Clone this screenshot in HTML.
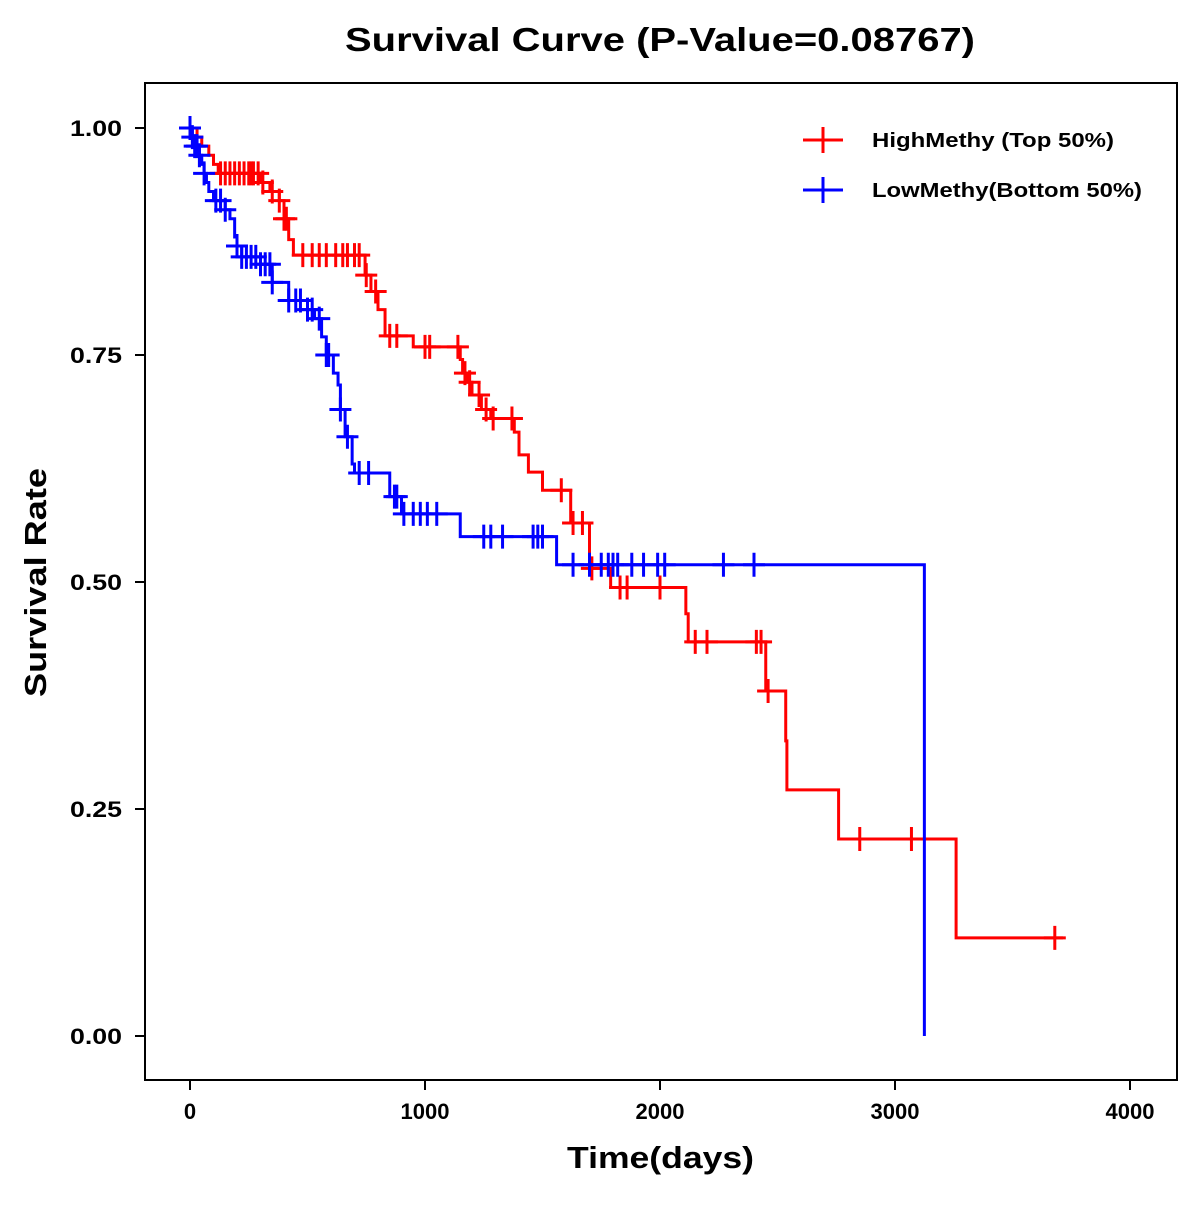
<!DOCTYPE html>
<html><head><meta charset="utf-8"><style>
body{margin:0;background:#fff}
svg text{font-family:"Liberation Sans",Arial,sans-serif;font-weight:bold}
</style></head><body>
<svg id="chart" width="1200" height="1200" xmlns="http://www.w3.org/2000/svg">
<rect x="0" y="0" width="1200" height="1200" fill="#fff"/>
<text x="345" y="51" font-size="33" textLength="630" lengthAdjust="spacingAndGlyphs">Survival Curve (P-Value=0.08767)</text>
<rect x="145" y="83" width="1032" height="997" fill="none" stroke="#000" stroke-width="2"/>
<text x="567" y="1168" font-size="31" textLength="187" lengthAdjust="spacingAndGlyphs">Time(days)</text>
<text transform="translate(46,697) rotate(-90)" font-size="31" textLength="229" lengthAdjust="spacingAndGlyphs">Survival Rate</text>
<g id="axes"></g>
<g id="series"></g>
<g id="legend"></g>
</svg>
<script>
const xTicks=[0,1000,2000,3000,4000];
const yTicks=[0,0.25,0.5,0.75,1.0];
const yTickLabels=["0.00","0.25","0.50","0.75","1.00"];
const seriesNames=["HighMethy (Top 50%)","LowMethy(Bottom 50%)"];
const seriesColors=["#ff0000","#0000ff"];
const highTimes=[0,30,50,80,100,120,300,340,380,400,420,440,745,770,800,830,950,1150,1160,1180,1200,1240,1280,1380,1400,1440,1500,1620,1700,1790,2110,2120,2450,2535,2540,2760,3260];
const highSurv=[1.0,0.99,0.98,0.97,0.96,0.95,0.94,0.93,0.92,0.90,0.877,0.86,0.838,0.82,0.80,0.771,0.759,0.745,0.73,0.72,0.706,0.69,0.68,0.665,0.64,0.621,0.601,0.565,0.515,0.494,0.465,0.434,0.38,0.325,0.271,0.217,0.108];
const highEnd=3715;
const highCensT=[130,150,170,190,210,230,250,260,270,290,310,350,380,400,410,480,520,550,580,620,650,670,700,720,750,790,850,880,1000,1020,1140,1170,1190,1230,1260,1290,1370,1580,1630,1670,1710,1830,1860,2000,2150,2200,2410,2430,2460,2850,3070,3680];
const lowTimes=[0,10,20,40,50,60,70,80,100,150,170,190,200,220,300,350,420,500,530,560,580,610,630,640,660,690,700,850,900,1150,1560,3125];
const lowSurv=[1.0,0.99,0.98,0.97,0.96,0.95,0.94,0.93,0.92,0.91,0.90,0.88,0.87,0.858,0.85,0.83,0.81,0.80,0.79,0.77,0.75,0.73,0.717,0.69,0.66,0.63,0.62,0.594,0.575,0.55,0.519,0.0];
const lowEnd=3125;
const lowCensT=[0,10,20,30,40,60,110,130,150,200,220,240,260,280,300,320,340,350,420,450,470,500,520,550,580,590,640,670,720,760,870,880,910,950,980,1010,1050,1250,1280,1330,1460,1480,1500,1630,1700,1750,1780,1800,1820,1880,1930,1990,2020,2270,2400];

const NS="http://www.w3.org/2000/svg";
const xs=t=>190+t*0.235;
const ys=s=>1036-s*908;
function mk(tag,attrs,parent){const e=document.createElementNS(NS,tag);for(const k in attrs)e.setAttribute(k,attrs[k]);parent.appendChild(e);return e;}
const axes=document.getElementById('axes');
xTicks.forEach(t=>{
  const l=mk('line',{x1:xs(t),x2:xs(t),y1:1080,y2:1090,stroke:'#000','stroke-width':2},axes);
  
  
  const tx=mk('text',{x:xs(t),y:1119,'font-size':22,'text-anchor':'middle'},axes);tx.textContent=t;
  
  
});
yTicks.forEach((v,i)=>{
  const l=mk('line',{x1:135,x2:145,y1:ys(v),y2:ys(v),stroke:'#000','stroke-width':2},axes);
  
  
  const tx=mk('text',{x:70,y:ys(v)+8,'font-size':22,textLength:52,lengthAdjust:'spacingAndGlyphs'},axes);tx.textContent=yTickLabels[i];
  
  
});
function survAt(times,surv,t){let s=1;for(let i=0;i<times.length;i++){if(times[i]<=t)s=surv[i];}return s;}
const ser=document.getElementById('series');
function draw(times,surv,end,cens,color,name){
  let d='M'+xs(0)+','+ys(1);
  for(let i=0;i<times.length;i++){d+='H'+xs(times[i])+'V'+ys(surv[i]);}
  d+='H'+xs(end);
  const p=mk('path',{d:d,fill:'none',stroke:color,'stroke-width':3},ser);
  
  
  cens.forEach(t=>{
    const s=survAt(times,surv,t);const x=xs(t),y=ys(s);
    const c=mk('path',{d:`M${x-11},${y}H${x+11}M${x},${y-12}V${y+12}`,stroke:color,'stroke-width':3,fill:'none'},ser);
    
    
  });
}
draw(highTimes,highSurv,highEnd,highCensT,seriesColors[0],'high-methy');
draw(lowTimes,lowSurv,lowEnd,lowCensT,seriesColors[1],'low-methy');
const lg=document.getElementById('legend');
const legendWidths=[242,270];
seriesNames.forEach((n,i)=>{
  const y=140+i*50;
  const g=mk('g',{},lg);
  
  
  mk('path',{d:`M803,${y}H843M823,${y-13}V${y+13}`,stroke:seriesColors[i],'stroke-width':3,fill:'none'},g);
  const t=mk('text',{x:872,y:y+7,'font-size':20,textLength:legendWidths[i],lengthAdjust:'spacingAndGlyphs'},g);t.textContent=n;
});
</script>
</body></html>
